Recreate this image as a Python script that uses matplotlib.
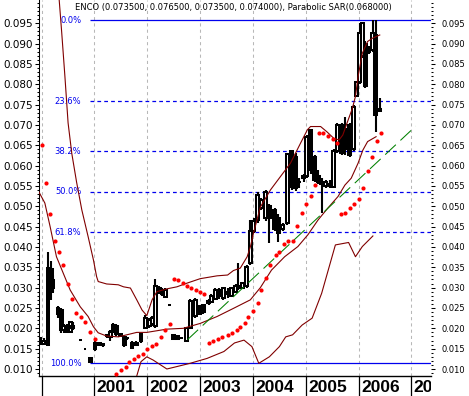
import matplotlib
matplotlib.use("Agg")
from matplotlib import pyplot as plt
from matplotlib.patches import Rectangle
from matplotlib.ticker import MultipleLocator, FixedLocator, FormatStrFormatter
from matplotlib.transforms import Bbox, TransformedBbox, blended_transform_factory

# ENCO weekly-ish candles (decimal year, open, high, low, close)
bar_t = [1999.93, 1999.99, 2000.04, 2000.12, 2000.18, 2000.21, 2000.31, 2000.37, 2000.42, 2000.48,
         2000.54, 2000.59, 2000.73, 2000.82, 2000.92, 2001.01, 2001.09, 2001.16, 2001.24, 2001.30,
         2001.35, 2001.41, 2001.49, 2001.56, 2001.62, 2001.71, 2001.79, 2001.88, 2001.96, 2002.04,
         2002.09, 2002.15, 2002.23, 2002.28, 2002.34, 2002.42, 2002.49, 2002.57, 2002.64, 2002.74,
         2002.81, 2002.91, 2002.98, 2003.06, 2003.16, 2003.21, 2003.29, 2003.36, 2003.44, 2003.52,
         2003.59, 2003.67, 2003.72, 2003.80, 2003.88, 2003.95, 2004.01, 2004.09, 2004.16, 2004.24,
         2004.31, 2004.41, 2004.48, 2004.56, 2004.65, 2004.73, 2004.81, 2004.88, 2004.96, 2005.02,
         2005.09, 2005.17, 2005.24, 2005.30, 2005.38, 2005.45, 2005.53, 2005.60, 2005.68, 2005.75,
         2005.83, 2005.91, 2005.96, 2006.02, 2006.08, 2006.13, 2006.19, 2006.27, 2006.32, 2006.40]
bar_o = [.0135, .0165, .0162, .0160, .0345, .0318, .0235, .0245, .0195, .0200,
         .0192, .0205, .0171, .0150, .0128, .0148, .0160, .0158, .0180, .0178,
         .0190, .0205, .0185, .0178, .0175, .0152, .0160, .0168, .0202, .0205,
         .0210, .0205, .0300, .0295, .0278, .0257, .0183, .0182, .0175, .0168,
         .0200, .0230, .0255, .0258, .0262, .0265, .0272, .0295, .0275, .0285,
         .0280, .0290, .0298, .0300, .0305, .0360, .0440, .0466, .0495, .0470,
         .0500, .0490, .0470, .0445, .0460, .0635, .0620, .0560, .0570, .0575,
         .0688, .0620, .0575, .0560, .0550, .0555, .0548, .0635, .0700, .0690,
         .0700, .0640, .0770, .0805, .0870, .0900, .0890, .0885, .0922, .0735]
bar_h = [.0178, .0178, .0175, .0388, .0365, .0330, .0255, .0250, .0210, .0210,
         .0218, .0215, .0171, .0150, .0130, .0168, .0165, .0164, .0185, .0195,
         .0212, .0210, .0188, .0180, .0178, .0168, .0170, .0188, .0232, .0225,
         .0230, .0320, .0305, .0300, .0298, .0257, .0183, .0183, .0178, .0202,
         .0272, .0275, .0258, .0260, .0272, .0285, .0298, .0300, .0300, .0300,
         .0302, .0308, .0360, .0315, .0355, .0466, .0470, .0535, .0520, .0540,
         .0505, .0495, .0480, .0460, .0632, .0638, .0632, .0570, .0580, .0675,
         .0690, .0625, .0590, .0570, .0565, .0565, .0640, .0705, .0705, .0720,
         .0705, .0750, .0808, .0950, .0952, .0905, .0895, .0957, .0957, .0765]
bar_l = [.0128, .0160, .0158, .0158, .0270, .0290, .0225, .0188, .0188, .0190,
         .0190, .0195, .0171, .0150, .0115, .0145, .0157, .0155, .0176, .0170,
         .0188, .0180, .0178, .0155, .0172, .0150, .0158, .0165, .0200, .0200,
         .0205, .0200, .0285, .0280, .0275, .0257, .0172, .0172, .0174, .0167,
         .0198, .0225, .0232, .0235, .0258, .0262, .0270, .0272, .0270, .0275,
         .0278, .0288, .0295, .0298, .0300, .0355, .0435, .0460, .0490, .0465,
         .0410, .0440, .0412, .0440, .0455, .0540, .0538, .0545, .0560, .0570,
         .0580, .0560, .0555, .0483, .0545, .0545, .0545, .0630, .0625, .0625,
         .0620, .0635, .0768, .0800, .0865, .0790, .0875, .0880, .0683, .0735]
bar_c = [.0172, .0170, .0168, .0348, .0290, .0300, .0250, .0195, .0205, .0192,
         .0215, .0200, .0171, .0150, .0116, .0163, .0163, .0162, .0183, .0190,
         .0208, .0185, .0180, .0158, .0176, .0165, .0165, .0185, .0225, .0220,
         .0225, .0305, .0290, .0285, .0295, .0257, .0173, .0174, .0177, .0200,
         .0268, .0270, .0235, .0240, .0268, .0280, .0295, .0280, .0298, .0290,
         .0300, .0305, .0305, .0312, .0350, .0440, .0465, .0528, .0515, .0535,
         .0470, .0445, .0435, .0455, .0628, .0548, .0545, .0560, .0575, .0670,
         .0590, .0565, .0560, .0555, .0560, .0550, .0635, .0700, .0630, .0640,
         .0625, .0745, .0805, .0925, .0950, .0795, .0880, .0925, .0725, .0740]

# Parabolic SAR dots
sar_t = [2000.00, 2000.08, 2000.16, 2000.25, 2000.33, 2000.41, 2000.49, 2000.58, 2000.65, 2000.74,
         2000.82, 2000.92, 2001.01, 2001.41, 2001.50, 2001.59, 2001.66, 2001.75, 2001.83, 2001.92,
         2002.00, 2002.09, 2002.17, 2002.25, 2002.34, 2002.43, 2002.50, 2002.59, 2002.68, 2002.76,
         2002.83, 2002.93, 2003.00, 2003.08, 2003.17, 2003.25, 2003.33, 2003.42, 2003.52, 2003.61,
         2003.69, 2003.76, 2003.84, 2003.91, 2004.00, 2004.09, 2004.16, 2004.25, 2004.33, 2004.43,
         2004.50, 2004.59, 2004.67, 2004.75, 2004.83, 2004.92, 2005.01, 2005.09, 2005.17, 2005.25,
         2005.33, 2005.42, 2005.52, 2005.60, 2005.67, 2005.75, 2005.84, 2005.91, 2006.00, 2006.09,
         2006.17, 2006.25, 2006.34, 2006.43]
sar_v = [.0650, .0558, .0481, .0415, .0388, .0356, .0309, .0272, .0238, .0228,
         .0215, .0191, .0174, .0088, .0098, .0106, .0117, .0124, .0131, .0138,
         .0150, .0157, .0162, .0178, .0196, .0211, .0322, .0319, .0311, .0304,
         .0299, .0294, .0289, .0284, .0164, .0169, .0174, .0179, .0184, .0189,
         .0196, .0203, .0214, .0228, .0242, .0263, .0295, .0324, .0356, .0379,
         .0388, .0408, .0415, .0415, .0452, .0484, .0506, .0525, .0552, .0680,
         .0680, .0673, .0665, .0656, .0481, .0483, .0496, .0506, .0518, .0546,
         .0587, .0621, .0661, .0680]

# bands (upper / middle / lower)
upper_t = [2000.33, 2000.38, 2000.44, 2000.50, 2000.57, 2000.66, 2000.76, 2000.88, 2000.98, 2001.04,
           2001.07, 2001.23, 2001.45, 2001.55, 2001.68, 2001.80, 2001.90, 2001.99, 2002.09, 2002.18,
           2002.37, 2002.56, 2002.75, 2003.00, 2003.32, 2003.52, 2003.63, 2003.76, 2003.89, 2003.95,
           2004.01, 2004.14, 2004.33, 2004.52, 2004.71, 2004.90, 2005.03, 2005.09, 2005.28, 2005.40,
           2005.53, 2005.63, 2005.70, 2005.79, 2005.88, 2005.94, 2005.99, 2006.07, 2006.17, 2006.26,
           2006.40]
upper_v = [.1010, .0926, .0819, .0705, .0630, .0560, .0491, .0425, .0368, .0327,
           .0315, .0309, .0307, .0302, .0299, .0270, .0245, .0231, .0270, .0290,
           .0297, .0302, .0311, .0322, .0329, .0331, .0342, .0348, .0376, .0400,
           .0434, .0498, .0540, .0573, .0606, .0655, .0688, .0696, .0696, .0683,
           .0667, .0663, .0675, .0708, .0740, .0770, .0819, .0876, .0905, .0913,
           .0921]
middle_t = [1999.94, 2000.06, 2000.16, 2000.28, 2000.41, 2000.54, 2000.73, 2000.88, 2000.98, 2001.07,
            2001.23, 2001.45, 2001.61, 2001.80, 2001.99, 2002.37, 2002.68, 2003.00, 2003.32, 2003.63,
            2003.95, 2004.14, 2004.35, 2004.60, 2004.85, 2005.04, 2005.23, 2005.42, 2005.61, 2005.74,
            2005.86, 2005.99, 2006.08, 2006.17, 2006.33]
middle_v = [.0537, .0508, .0450, .0376, .0335, .0294, .0253, .0229, .0204, .0189,
            .0181, .0179, .0184, .0190, .0190, .0198, .0200, .0212, .0229, .0249,
            .0270, .0300, .0343, .0376, .0401, .0430, .0466, .0496, .0524, .0552,
            .0569, .0606, .0638, .0659, .0671]
lower_t = [2001.80, 2001.88, 2001.99, 2002.11, 2002.37, 2002.56, 2002.81, 2003.13, 2003.45, 2003.65,
           2003.83, 2003.98, 2004.11, 2004.31, 2004.50, 2004.62, 2004.75, 2004.93, 2005.12, 2005.30,
           2005.56, 2005.81, 2005.94, 2006.07, 2006.27]
lower_v = [.0083, .0118, .0130, .0122, .0100, .0106, .0114, .0126, .0143, .0164,
           .0171, .0155, .0114, .0130, .0155, .0179, .0184, .0208, .0225, .0286,
           .0405, .0411, .0376, .0401, .0427]

# green trend line
trend_t = [2002.76, 2007.08]
trend_v = [.0172, .0697]

# fibonacci retracement
fib_high = 0.0957
fib_low = 0.0114
fib_ratios = [0.0, 0.236, 0.382, 0.5, 0.618, 1.0]
fib_labels = ["0.0%", "23.6%", "38.2%", "50.0%", "61.8%", "100.0%"]
fib_start = 2000.92

years = [2000, 2001, 2002, 2003, 2004, 2005, 2006, 2007]
price_ticks = [0.010, 0.015, 0.020, 0.025, 0.030, 0.035, 0.040, 0.045, 0.050,
               0.055, 0.060, 0.065, 0.070, 0.075, 0.080, 0.085, 0.090, 0.095]
title = "ENCO (0.073500, 0.076500, 0.073500, 0.074000), Parabolic SAR(0.068000)"

x_min, x_max = 1999.94, 2007.37
y_min, y_max = 0.00828, 0.1007

fig = plt.figure(figsize=(4.69, 3.96), dpi=100)
ax = fig.add_axes([38.5 / 469, 20 / 396, 392.5 / 469, 376 / 396])
ax.set_xlim(x_min, x_max)
ax.set_ylim(y_min, y_max)

# year grid
for yr in years:
    ax.axvline(yr, color="#b8b8b8", lw=0.75, ls=(0, (3, 3)), zorder=0)

# fib levels
for r, lab in zip(fib_ratios, fib_labels):
    level = fib_high - r * (fib_high - fib_low)
    ls = "-" if r in (0.0, 1.0) else (0, (3, 2.5))
    ax.hlines(level, fib_start, x_max, color="#0000ee", lw=0.9, ls=ls, zorder=1)
    ax.text(fib_start - 0.17, level, lab, color="#0000ee", fontsize=6,
            ha="right", va="center", zorder=1)

# candles
w = 0.055
for t, o, h, l, c in zip(bar_t, bar_o, bar_h, bar_l, bar_c):
    ax.vlines(t, l, h, color="black", lw=1.5, zorder=3)
    face = "white" if c >= o else "black"
    ax.add_patch(Rectangle((t - w / 2, min(o, c)), w, abs(c - o),
                           facecolor=face, edgecolor="black", lw=1.45, zorder=3))

# bands + trend
for bt, bv in [(upper_t, upper_v), (middle_t, middle_v), (lower_t, lower_v)]:
    ax.plot(bt, bv, color="#800000", lw=0.8, zorder=4)
ax.plot(trend_t, trend_v, color="#008000", lw=0.75, ls=(0, (14, 6)), zorder=4)

# parabolic SAR
ax.scatter(sar_t, sar_v, s=9, color="#ff0000", marker="o", linewidths=0, zorder=5)

# axes styling
for side in ["top", "right"]:
    ax.spines[side].set_visible(False)
ax.spines["left"].set_linewidth(0.75)
ax.spines["bottom"].set_linewidth(1.0)

ax.yaxis.set_major_locator(FixedLocator(price_ticks))
ax.yaxis.set_minor_locator(MultipleLocator(0.001))
ax.yaxis.set_major_formatter(FormatStrFormatter("%.3f"))
ax.tick_params(axis="y", which="major", length=3, width=0.75, pad=0.8, labelsize=7.5)
ax.tick_params(axis="y", which="minor", length=1.6, width=0.75)

ax.set_xticks(years)
ax.set_xticklabels([])
ax.tick_params(axis="x", which="major", length=14.5, width=0.9, direction="out")

# right axis copy
ax2 = ax.twinx()
ax2.set_ylim(y_min, y_max)
for side in ["top", "right", "left", "bottom"]:
    ax2.spines[side].set_visible(False)
ax2.yaxis.set_major_locator(FixedLocator(price_ticks))
ax2.yaxis.set_minor_locator(MultipleLocator(0.001))
ax2.yaxis.set_major_formatter(FormatStrFormatter("%.3f"))
ax2.tick_params(axis="y", which="major", length=3, width=0.75, pad=4.5, labelsize=6)
ax2.tick_params(axis="y", which="minor", length=1.6, width=0.75)

# year labels, clipped at the plot's right edge
clip = TransformedBbox(Bbox([[0, 0], [431 / 469, 1]]), fig.transFigure)
trans = blended_transform_factory(ax.transData, fig.transFigure)
for yr in years[1:]:
    t = fig.text(yr + 0.045, 16 / 396, str(yr), transform=trans, ha="left", va="top",
                 fontsize=12.5, fontweight="bold", family="Liberation Sans")
    t.set_clip_box(clip)
    t.set_clip_on(True)

fig.text(75 / 469, 1 - 7.5 / 396, title, fontsize=6, ha="left", va="center")

fig.savefig("out.png", dpi=100)
